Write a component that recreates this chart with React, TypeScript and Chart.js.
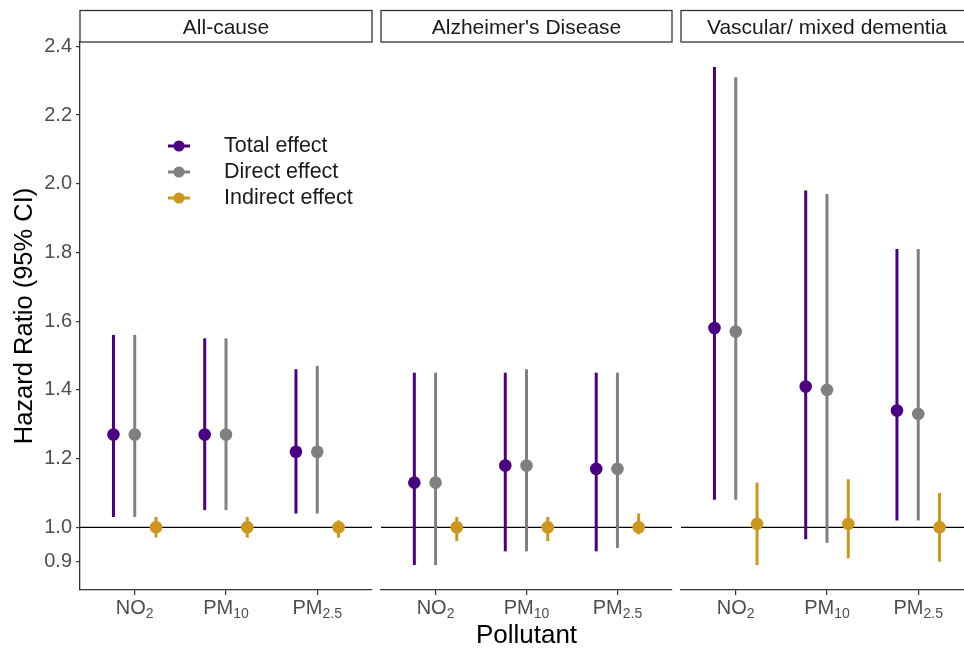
import React, { useEffect, useRef } from 'react';
import { Chart, registerables } from 'chart.js';

Chart.register(...registerables);

// ---------- data ----------
const panels = ['All-cause', "Alzheimer's Disease", 'Vascular/ mixed dementia'];
const pollutantBase = ['NO', 'PM', 'PM'];
const pollutantSub = ['2', '10', '2.5'];
const seriesNames = ['Total effect', 'Direct effect', 'Indirect effect'];
const seriesColors = ['#4b0082', '#808080', '#cd961d'];
const yTicks = [0.9, 1.0, 1.2, 1.4, 1.6, 1.8, 2.0, 2.2, 2.4];

// rows: panel, columns: pollutant
const totalEst = [[1.27, 1.27, 1.22], [1.13, 1.18, 1.17], [1.58, 1.41, 1.34]];
const totalLow = [[1.03, 1.05, 1.04], [0.89, 0.93, 0.93], [1.08, 0.965, 1.02]];
const totalHigh = [[1.56, 1.55, 1.46], [1.45, 1.45, 1.45], [2.34, 1.98, 1.81]];
const directEst = [[1.27, 1.27, 1.22], [1.13, 1.18, 1.17], [1.57, 1.40, 1.33]];
const directLow = [[1.03, 1.05, 1.04], [0.89, 0.93, 0.94], [1.08, 0.955, 1.02]];
const directHigh = [[1.56, 1.55, 1.47], [1.45, 1.46, 1.45], [2.31, 1.97, 1.81]];
const indirectEst = [[1.00, 1.00, 1.00], [1.00, 1.00, 1.00], [1.01, 1.01, 1.00]];
const indirectLow = [[0.97, 0.97, 0.97], [0.96, 0.96, 0.98], [0.89, 0.91, 0.90]];
const indirectHigh = [[1.03, 1.03, 1.02], [1.03, 1.03, 1.04], [1.13, 1.14, 1.10]];

const ests = [totalEst, directEst, indirectEst];
const lows = [totalLow, directLow, indirectLow];
const highs = [totalHigh, directHigh, indirectHigh];

// ---------- layout/style ----------
const FONT = "'Liberation Sans', Arial, Helvetica, sans-serif";
const DODGE = 0.7;
const allLow = Math.min(...lows.flat(2));
const allHigh = Math.max(...highs.flat(2));
const yPad = (allHigh - allLow) * 0.05;
const Y_MIN = allLow - yPad;
const Y_MAX = allHigh + yPad;
const W = 964;
const H = 649;

function Panel({ p, left, width, padL, padR }: { p: number; left: number; width: number; padL: number; padR: number }) {
  const ref = useRef<HTMLCanvasElement>(null);
  useEffect(() => {
    const canvas = ref.current!;
    const datasets: any[] = [];
    seriesNames.forEach((name, k) => {
      datasets.push({
        type: 'bar',
        label: name,
        data: pollutantBase.map((_, j) => ({ x: j + 1, y: [lows[k][p][j], highs[k][p][j]] })),
        backgroundColor: seriesColors[k],
        borderWidth: 0,
        borderSkipped: false,
        maxBarThickness: 3,
        categoryPercentage: DODGE,
        barPercentage: 1,
        order: 1,
      });
    });
    seriesNames.forEach((name, k) => {
      datasets.push({
        type: 'line',
        label: name,
        data: pollutantBase.map((_, j) => ({ x: j + 1 + ((k - 1) * DODGE) / 3, y: ests[k][p][j] })),
        showLine: false,
        pointRadius: 6.3,
        pointHoverRadius: 6.3,
        pointBorderWidth: 0,
        pointBackgroundColor: seriesColors[k],
        borderColor: seriesColors[k],
        backgroundColor: seriesColors[k],
        order: 0,
      });
    });

    const facetPlugin = {
      id: 'facet' + p,
      beforeDatasetsDraw(chart: any) {
        const { ctx, chartArea, scales } = chart;
        const y = scales.y.getPixelForValue(1.0);
        ctx.save();
        ctx.strokeStyle = '#000';
        ctx.lineWidth = 1.2;
        ctx.beginPath();
        ctx.moveTo(chartArea.left, y);
        ctx.lineTo(chartArea.right, y);
        ctx.stroke();
        ctx.restore();
      },
      afterDraw(chart: any) {
        const { ctx, chartArea, scales } = chart;
        ctx.save();
        // strip
        const sTop = 10.5;
        ctx.fillStyle = '#fff';
        ctx.fillRect(chartArea.left, sTop, chartArea.right - chartArea.left, chartArea.top - sTop);
        ctx.strokeStyle = '#333';
        ctx.lineWidth = 1.3;
        ctx.strokeRect(chartArea.left, sTop, chartArea.right - chartArea.left, chartArea.top - sTop);
        ctx.fillStyle = '#1a1a1a';
        ctx.font = `21px ${FONT}`;
        ctx.textAlign = 'center';
        ctx.textBaseline = 'middle';
        ctx.fillText(panels[p], (chartArea.left + chartArea.right) / 2, 28);

        // x tick labels with subscripts
        ctx.fillStyle = '#4d4d4d';
        ctx.textAlign = 'left';
        ctx.textBaseline = 'alphabetic';
        pollutantBase.forEach((base, j) => {
          const x = scales.x.getPixelForValue(j + 1);
          ctx.font = `20px ${FONT}`;
          const wb = ctx.measureText(base).width;
          ctx.font = `14px ${FONT}`;
          const ws = ctx.measureText(pollutantSub[j]).width;
          const start = x - (wb + ws) / 2;
          ctx.font = `20px ${FONT}`;
          ctx.fillText(base, start, 614);
          ctx.font = `14px ${FONT}`;
          ctx.fillText(pollutantSub[j], start + wb, 618);
        });

        // legend
        if (p === 0) {
          const lx = chartArea.left + 99;
          const ty = 146;
          seriesNames.forEach((name, k) => {
            const y = ty + k * 26;
            ctx.strokeStyle = seriesColors[k];
            ctx.lineWidth = 3;
            ctx.beginPath();
            ctx.moveTo(lx - 11, y);
            ctx.lineTo(lx + 11, y);
            ctx.stroke();
            ctx.fillStyle = seriesColors[k];
            ctx.beginPath();
            ctx.arc(lx, y, 5.6, 0, Math.PI * 2);
            ctx.fill();
            ctx.fillStyle = '#1a1a1a';
            ctx.font = `21.5px ${FONT}`;
            ctx.textAlign = 'left';
            ctx.textBaseline = 'middle';
            ctx.fillText(name, lx + 45, y);
          });
        }
        ctx.restore();
      },
    };

    const chart = new Chart(canvas, {
      type: 'bar',
      data: { datasets },
      plugins: [facetPlugin],
      options: {
        animation: false,
        responsive: false,
        devicePixelRatio: 1,
        events: [],
        layout: { autoPadding: false, padding: { top: 42, left: padL, right: padR, bottom: 0 } },
        plugins: { legend: { display: false }, tooltip: { enabled: false }, title: { display: false } },
        scales: {
          x: {
            type: 'linear',
            min: 1 - 0.6,
            max: pollutantBase.length + 0.6,
            offset: false,
            afterBuildTicks: (s: any) => {
              s.ticks = pollutantBase.map((_, j) => ({ value: j + 1 }));
            },
            afterFit: (s: any) => {
              s.height = 59;
            },
            ticks: { display: false },
            grid: { display: true, drawOnChartArea: false, drawTicks: true, tickLength: 5, color: '#333', offset: false, lineWidth: 1.2 },
            border: { display: true, color: '#333', width: 1.3 },
            title: {
              display: p === 1,
              text: 'Pollutant',
              color: '#000',
              font: { size: 26, family: FONT, lineHeight: 1 },
              padding: { top: 0, bottom: 0 },
            },
          },
          y: {
            type: 'linear',
            display: p === 0,
            min: Y_MIN,
            max: Y_MAX,
            afterBuildTicks: (s: any) => {
              s.ticks = yTicks.map((v) => ({ value: v }));
            },
            afterFit: (s: any) => {
              s.width = p === 0 ? 80 : 0;
            },
            ticks: {
              autoSkip: false,
              padding: 4,
              color: '#4d4d4d',
              font: { size: 20, family: FONT },
              callback: (v: any) => Number(v).toFixed(1),
            },
            grid: { display: true, drawOnChartArea: false, drawTicks: true, tickLength: 4, color: '#333', lineWidth: 1.2 },
            border: { display: true, color: '#333', width: 1.3 },
            title: {
              display: true,
              text: 'Hazard Ratio (95% CI)',
              color: '#000',
              font: { size: 25.5, family: FONT },
              padding: { top: 10, bottom: 0 },
            },
          },
        },
      } as any,
    });
    return () => chart.destroy();
  }, [p, padL, padR]);

  return (
    <canvas
      ref={ref}
      width={width}
      height={H}
      style={{ position: 'absolute', left, top: 0, width, height: H, display: 'block' }}
    />
  );
}

export default function App() {
  return (
    <div
      style={{
        position: 'absolute',
        left: 0,
        top: 0,
        width: W,
        height: H,
        overflow: 'hidden',
        background: '#fff',
      }}
    >
      <Panel p={0} left={0} width={376} padL={0} padR={4} />
      <Panel p={1} left={376} width={300} padL={5} padR={4} />
      <Panel p={2} left={676} width={302} padL={5} padR={5} />
    </div>
  );
}
